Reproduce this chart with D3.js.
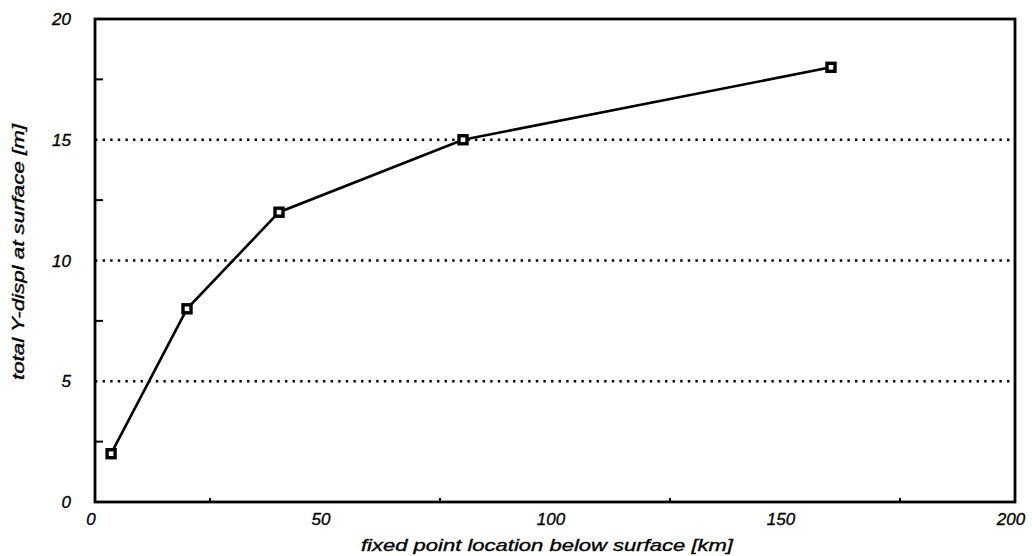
<!DOCTYPE html>
<html>
<head>
<meta charset="utf-8">
<script src="https://cdn.jsdelivr.net/npm/d3@7"></script>
<style>
html,body{margin:0;padding:0;background:#fff;}
text{font-family:"Liberation Sans",Arial,sans-serif;font-style:italic;fill:#000;stroke:#000;stroke-width:0.35;}
</style>
</head>
<body>
<svg id="c" width="1032" height="556"></svg>
<script>
const depthKm = [3.5, 20, 40, 80, 160];
const displM = [2, 8, 12, 15, 18];
const xTicks = [0, 50, 100, 150, 200];
const yTicks = [0, 5, 10, 15, 20];
const xMinor = [25, 75, 125, 175];
const yMinor = [2.5, 7.5, 12.5, 17.5];
const gridVals = [5, 10, 15];
const xTitle = "fixed point location below surface [km]";
const yTitle = "total Y-displ at surface [m]";

const L = 95, R = 1015, T = 19, B = 502;
const svg = d3.select("#c");
const x = d3.scaleLinear().domain([0, 200]).range([L, R]);
const y = d3.scaleLinear().domain([0, 20]).range([B, T]);

// dotted grid
svg.append("g").selectAll("line").data(gridVals).join("line")
  .attr("x1", L).attr("x2", R)
  .attr("y1", d => y(d)).attr("y2", d => y(d))
  .attr("stroke", "#000").attr("stroke-width", 2.4)
  .attr("stroke-dasharray", "2.4,5.2");

// minor inward ticks
svg.append("g").selectAll("line").data(yMinor).join("line")
  .attr("x1", L).attr("x2", L + 8)
  .attr("y1", d => y(d)).attr("y2", d => y(d))
  .attr("stroke", "#000").attr("stroke-width", 2);
svg.append("g").selectAll("line").data(xMinor).join("line")
  .attr("x1", d => x(d)).attr("x2", d => x(d))
  .attr("y1", B).attr("y2", B - 4)
  .attr("stroke", "#000").attr("stroke-width", 2);

// frame
svg.append("rect").attr("x", L).attr("y", T)
  .attr("width", R - L).attr("height", B - T)
  .attr("fill", "none").attr("stroke", "#000").attr("stroke-width", 2.8);

// tick labels
svg.append("g").selectAll("text").data(yTicks).join("text")
  .attr("x", L - 24).attr("y", d => y(d) + 6)
  .attr("text-anchor", "end").attr("font-size", 17)
  .text(d => d);
svg.append("g").selectAll("text").data(xTicks).join("text")
  .attr("x", d => x(d) - 4).attr("y", B + 23)
  .attr("text-anchor", "middle").attr("font-size", 17)
  .text(d => d);

// titles
svg.append("text").attr("x", 547).attr("y", 551)
  .attr("text-anchor", "middle").attr("font-size", 17)
  .attr("textLength", 372).attr("lengthAdjust", "spacingAndGlyphs").text(xTitle);
svg.append("text").attr("transform", "translate(24," + 252 + ") rotate(-90)")
  .attr("text-anchor", "middle").attr("font-size", 17)
  .attr("textLength", 256).attr("lengthAdjust", "spacingAndGlyphs").text(yTitle);

// data line
const pts = depthKm.map((d, i) => [d, displM[i]]);
svg.append("path").datum(pts)
  .attr("d", d3.line().x(d => x(d[0])).y(d => y(d[1])))
  .attr("fill", "none").attr("stroke", "#000").attr("stroke-width", 2.6);

// markers
svg.append("g").selectAll("rect").data(pts).join("rect")
  .attr("x", d => x(d[0]) - 4).attr("y", d => y(d[1]) - 4)
  .attr("width", 8).attr("height", 8)
  .attr("fill", "#fff").attr("stroke", "#000").attr("stroke-width", 3.4);
</script>
</body>
</html>
